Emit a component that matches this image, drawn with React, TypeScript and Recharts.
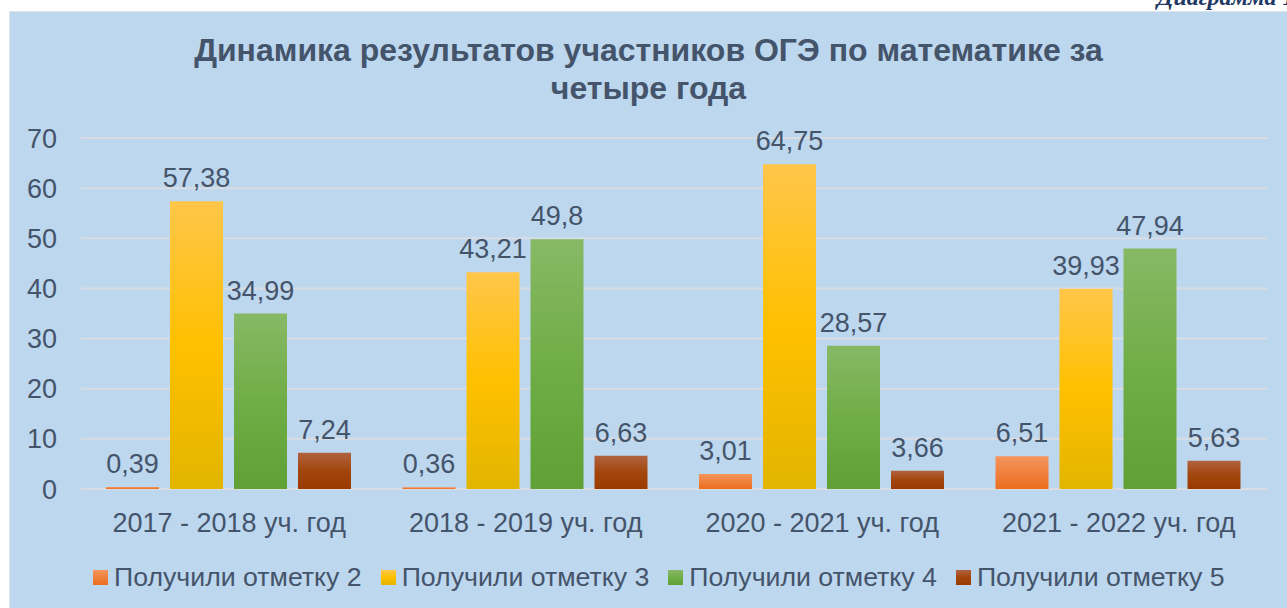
import React from 'react';
import { BarChart, Bar, XAxis, YAxis, CartesianGrid, Legend, LabelList } from 'recharts';

// school years (categories)
const years = ['2017 - 2018 уч. год', '2018 - 2019 уч. год', '2020 - 2021 уч. год', '2021 - 2022 уч. год'];
// share of students per mark, %
const mark2 = [0.39, 0.36, 3.01, 6.51];
const mark3 = [57.38, 43.21, 64.75, 39.93];
const mark4 = [34.99, 49.8, 28.57, 47.94];
const mark5 = [7.24, 6.63, 3.66, 5.63];
const yTicks = [0, 10, 20, 30, 40, 50, 60, 70];

const seriesNames = ['Получили отметку 2', 'Получили отметку 3', 'Получили отметку 4', 'Получили отметку 5'];

const data = years.map((y, i) => ({
    year: y,
    m2: mark2[i],
    m3: mark3[i],
    m4: mark4[i],
    m5: mark5[i],
}));

const textColor = '#44546a';
const font = '"Liberation Sans", Arial, sans-serif';

const fmt = (v: any) => String(v).replace('.', ',');

const legendItems = [
    { name: seriesNames[0], c: 'linear-gradient(#f4955c, #ec6d1f)' },
    { name: seriesNames[1], c: 'linear-gradient(#ffc64a, #ffc000, #e2b500)' },
    { name: seriesNames[2], c: 'linear-gradient(#87b965, #70ad47, #60a035)' },
    { name: seriesNames[3], c: 'linear-gradient(#b1623f, #a2460e, #9a3a00)' },
];

const LegendContent = () => (
    <div style={{ display: 'flex', alignItems: 'center', height: 40, fontFamily: font, fontSize: 26.7, color: textColor }}>
        {legendItems.map((it) => (
            <div key={it.name} style={{ display: 'flex', alignItems: 'center', marginRight: 19 }}>
                <span style={{ display: 'inline-block', width: 15, height: 15, background: it.c, marginRight: 6 }} />
                <span>{it.name}</span>
            </div>
        ))}
    </div>
);

export default function App() {
    return (
        <div style={{ position: 'absolute', left: 0, top: 0, width: 1287, height: 608, background: '#fff', overflow: 'hidden' }}>
            <div style={{
                position: 'absolute', left: 1157, top: -16, lineHeight: '26px', fontSize: 24,
                fontFamily: '"Liberation Serif", serif', fontStyle: 'italic', fontWeight: 'bold', color: '#1f3864', whiteSpace: 'nowrap',
            }}>Диаграмма 1</div>
            <div style={{
                position: 'absolute', left: 9, top: 11, width: 1277, height: 596,
                background: '#bdd7ee', border: '1px solid #dde3ea', borderRight: 'none', borderBottom: 'none',
            }}>
                <div style={{
                    position: 'absolute', left: 0, top: 19, width: 1277, textAlign: 'center',
                    fontFamily: font, fontWeight: 'bold', fontSize: 32, lineHeight: '38px', color: textColor,
                }}>
                    Динамика результатов участников ОГЭ по математике за<br />четыре года
                </div>
                <BarChart
                    width={1277}
                    height={596}
                    data={data}
                    margin={{ top: 126, right: 20, left: 0, bottom: 11 }}
                    barCategoryGap={25}
                    barGap={11}
                >
                    <defs>
                        <linearGradient id="g2" x1="0" y1="0" x2="0" y2="1">
                            <stop offset="0%" stopColor="#f4955c" />
                            <stop offset="100%" stopColor="#ec6d1f" />
                        </linearGradient>
                        <linearGradient id="g3" x1="0" y1="0" x2="0" y2="1">
                            <stop offset="0%" stopColor="#ffc64a" />
                            <stop offset="50%" stopColor="#ffc000" />
                            <stop offset="100%" stopColor="#e2b500" />
                        </linearGradient>
                        <linearGradient id="g4" x1="0" y1="0" x2="0" y2="1">
                            <stop offset="0%" stopColor="#87b965" />
                            <stop offset="50%" stopColor="#70ad47" />
                            <stop offset="100%" stopColor="#60a035" />
                        </linearGradient>
                        <linearGradient id="g5" x1="0" y1="0" x2="0" y2="1">
                            <stop offset="0%" stopColor="#b1623f" />
                            <stop offset="50%" stopColor="#a2460e" />
                            <stop offset="100%" stopColor="#9a3a00" />
                        </linearGradient>
                    </defs>
                    <CartesianGrid vertical={false} stroke="#d9dde3" strokeWidth={2} />
                    <XAxis
                        dataKey="year"
                        height={68}
                        axisLine={false}
                        tickLine={false}
                        tickSize={0}
                        tickMargin={24}
                        tick={{ fill: textColor, fontSize: 27, fontFamily: font }}
                    />
                    <YAxis
                        width={71}
                        domain={[0, 70]}
                        ticks={yTicks}
                        axisLine={false}
                        tickLine={false}
                        tickSize={0}
                        tickMargin={24}
                        tick={{ fill: textColor, fontSize: 27, fontFamily: font }}
                    />
                    <Legend
                        verticalAlign="bottom"
                        content={<LegendContent />}
                        wrapperStyle={{ left: 83, width: 'auto' }}
                    />
                    <Bar dataKey="m2" name={seriesNames[0]} fill="url(#g2)" isAnimationActive={false}>
                        <LabelList dataKey="m2" position="top" offset={14} formatter={fmt} fill={textColor} fontSize={27} fontFamily={font} />
                    </Bar>
                    <Bar dataKey="m3" name={seriesNames[1]} fill="url(#g3)" isAnimationActive={false}>
                        <LabelList dataKey="m3" position="top" offset={14} formatter={fmt} fill={textColor} fontSize={27} fontFamily={font} />
                    </Bar>
                    <Bar dataKey="m4" name={seriesNames[2]} fill="url(#g4)" isAnimationActive={false}>
                        <LabelList dataKey="m4" position="top" offset={14} formatter={fmt} fill={textColor} fontSize={27} fontFamily={font} />
                    </Bar>
                    <Bar dataKey="m5" name={seriesNames[3]} fill="url(#g5)" isAnimationActive={false}>
                        <LabelList dataKey="m5" position="top" offset={14} formatter={fmt} fill={textColor} fontSize={27} fontFamily={font} />
                    </Bar>
                </BarChart>
            </div>
        </div>
    );
}
